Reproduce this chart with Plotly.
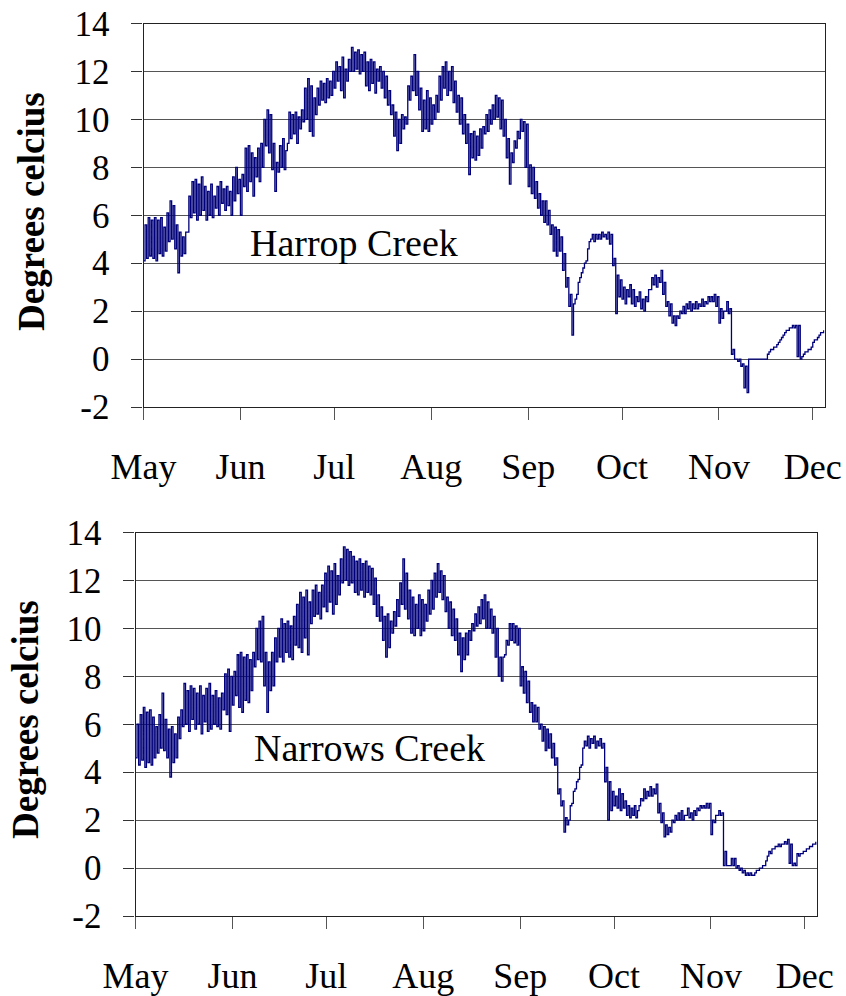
import pandas as pd
import plotly.graph_objects as go

# Season start; each list entry is one day from May 1 onward
START = pd.Timestamp("2003-05-01")

MONTHS = ["May", "Jun", "Jul", "Aug", "Sep", "Oct", "Nov", "Dec"]
MONTH_STARTS = ["2003-05-01", "2003-06-01", "2003-07-01", "2003-08-01",
                "2003-09-01", "2003-10-01", "2003-11-01", "2003-12-01"]
Y_TICKS = [-2, 0, 2, 4, 6, 8, 10, 12, 14]
Y_LABELS = ["-2", "0", "2", "4", "6", "8", "10", "12", "14"]

# Daily maximum / minimum water temperature, Harrop Creek (deg C)
harrop_high = [
    5.6, 5.9, 5.8, 5.9, 5.8, 5.9, 5.5, 6.1, 6.6, 6.4,
    5.6, 5.3, 5.1, 5.3, 6.8, 7.4, 7.5, 7.3, 7.6, 7.2,
    7.0, 7.3, 6.8, 7.2, 7.4, 7.1, 7.2, 7.0, 7.6, 8.0,
    7.5, 7.7, 8.8, 8.9, 8.6, 8.4, 8.8, 9.0, 10.0, 10.4,
    10.2, 9.0, 8.2, 8.9, 9.2, 8.7, 10.3, 10.2, 10.3, 10.1,
    10.4, 11.3, 11.7, 11.4, 10.9, 11.3, 11.6, 11.5, 11.7, 11.6,
    12.0, 12.4, 12.2, 12.6, 12.1, 12.5, 13.0, 12.8, 12.9, 12.7,
    12.8, 12.4, 12.5, 12.4, 12.1, 12.2, 12.0, 11.8, 11.2, 10.6,
    10.3, 10.0, 10.2, 10.1, 11.4, 11.8, 12.7, 12.0, 11.3, 10.8,
    11.2, 10.9, 10.6, 11.0, 11.8, 12.2, 12.4, 12.0, 12.2, 11.6,
    11.0, 10.9, 10.2, 9.8, 9.4, 9.5, 9.3, 9.6, 9.7, 10.2,
    10.4, 10.6, 11.0, 10.9, 10.8, 10.0, 9.2, 8.6, 9.1, 9.5,
    10.0, 9.9, 9.8, 8.1, 8.0, 7.4, 6.9, 6.6, 6.6, 6.2,
    5.6, 5.5, 5.4, 5.1, 4.4, 3.4, 2.7, 2.3, 2.7, 3.4,
    3.8, 4.1, 4.9, 5.2, 5.2, 5.2, 5.3, 5.2, 5.3, 5.2,
    4.2, 3.5, 3.3, 3.0, 2.9, 3.1, 2.9, 2.6, 2.8, 2.5,
    2.6, 2.9, 3.4, 3.5, 3.4, 3.7, 3.2, 2.4, 2.3, 1.8,
    1.8, 2.0, 2.2, 2.3, 2.4, 2.3, 2.4, 2.3, 2.5, 2.4,
    2.6, 2.6, 2.7, 2.6, 2.1, 2.0, 2.4, 2.1, 0.4, 0.0,
    0.0, -0.2, -0.3, 0.0, 0.0, 0.0, 0.0, 0.0, 0.0, 0.2,
    0.4, 0.5, 0.6, 0.8, 1.0, 1.2, 1.3, 1.4, 1.4, 1.4,
    0.1, 0.3, 0.4, 0.5, 0.8, 0.9, 1.1, 1.2,
]
harrop_low = [
    4.1, 4.2, 4.3, 4.2, 4.1, 4.4, 4.3, 4.5, 4.9, 5.0,
    4.6, 3.6, 4.3, 4.4, 5.3, 5.9, 6.1, 5.8, 6.0, 6.2,
    5.8, 6.0, 5.9, 6.3, 6.0, 6.5, 6.2, 6.4, 6.0, 6.6,
    6.9, 6.0, 7.2, 7.0, 7.4, 6.8, 7.6, 7.4, 8.0, 8.9,
    8.6, 7.9, 7.0, 7.8, 8.0, 7.9, 9.0, 9.2, 9.4, 9.0,
    9.6, 9.9, 10.0, 9.5, 9.3, 10.2, 10.6, 10.8, 10.7, 10.9,
    11.0, 11.3, 11.6, 11.2, 10.9, 11.6, 12.0, 12.0, 12.1, 11.9,
    12.0, 11.4, 11.2, 11.5, 11.1, 11.6, 11.3, 10.9, 10.6, 10.2,
    9.3, 8.7, 9.0, 9.6, 9.8, 10.8, 11.2, 11.0, 10.4, 9.5,
    9.6, 9.5, 9.8, 10.0, 10.3, 10.8, 11.3, 11.0, 11.2, 10.7,
    10.3, 9.8, 9.4, 9.0, 7.7, 8.4, 8.3, 8.5, 8.8, 9.4,
    9.5, 9.8, 10.0, 10.1, 9.6, 9.3, 8.4, 7.3, 8.2, 8.8,
    9.2, 9.5, 8.0, 7.2, 6.9, 6.7, 6.3, 6.0, 5.7, 5.6,
    5.2, 4.5, 4.3, 4.5, 3.7, 3.0, 2.2, 1.0, 2.5, 3.2,
    3.6, 4.0, 4.6, 5.0, 4.9, 5.0, 5.0, 5.1, 5.0, 4.8,
    3.9, 1.9, 2.6, 2.5, 2.3, 2.6, 2.3, 2.2, 2.4, 2.1,
    2.0, 2.4, 2.9, 3.1, 3.0, 3.2, 2.7, 2.2, 1.8, 1.5,
    1.4, 1.7, 1.9, 1.9, 2.1, 2.0, 2.1, 2.1, 2.2, 2.2,
    2.3, 2.4, 2.4, 2.2, 1.5, 1.7, 2.0, 1.9, 0.2, 0.0,
    -0.1, -0.3, -1.2, -1.4, 0.0, 0.0, 0.0, 0.0, 0.0, 0.0,
    0.3, 0.4, 0.5, 0.7, 0.9, 1.1, 1.2, 1.3, 1.3, 0.1,
    0.0, 0.2, 0.3, 0.4, 0.7, 0.8, 1.0, 1.1,
]

# Daily maximum / minimum water temperature, Narrows Creek (deg C)
narrows_high = [
    6.0, 6.4, 6.7, 6.5, 6.6, 6.3, 5.9, 6.4, 7.3, 6.2,
    5.8, 5.9, 5.6, 6.3, 6.6, 7.7, 7.4, 7.6, 7.5, 7.3,
    7.6, 7.2, 7.5, 7.7, 7.2, 7.4, 7.1, 7.3, 8.1, 8.3,
    8.0, 8.2, 8.9, 9.0, 8.8, 8.9, 8.7, 9.0, 10.0, 10.3,
    10.5, 9.0, 8.6, 9.0, 9.6, 10.0, 10.4, 10.2, 10.3, 10.1,
    10.5, 11.0, 11.5, 11.3, 11.6, 11.1, 11.6, 11.8, 11.5, 11.8,
    12.3, 12.6, 12.4, 12.7, 12.2, 12.9, 13.4, 13.3, 13.2, 13.0,
    12.8, 12.9, 12.7, 12.8, 12.6, 12.5, 12.1, 11.4, 10.9, 10.5,
    10.6, 10.3, 10.7, 11.2, 11.9, 12.9, 12.3, 11.6, 11.3, 11.0,
    11.4, 11.2, 11.0, 11.6, 12.0, 12.3, 12.7, 12.4, 12.2, 11.3,
    11.1, 10.8, 10.4, 9.8, 9.6, 9.8, 9.9, 10.2, 10.6, 10.9,
    11.2, 11.4, 11.1, 10.8, 10.5, 10.0, 8.8, 8.8, 9.5, 10.2,
    10.2, 10.1, 10.0, 8.4, 8.2, 7.8, 6.9, 6.8, 6.7, 6.0,
    5.9, 5.8, 5.6, 5.2, 4.6, 3.3, 2.8, 2.1, 2.0, 2.7,
    3.3, 3.7, 4.3, 5.3, 5.5, 5.4, 5.5, 5.3, 5.4, 5.2,
    4.2, 3.6, 3.2, 3.0, 3.3, 3.1, 2.8, 2.6, 2.5, 2.6,
    2.4, 2.9, 3.3, 3.2, 3.4, 3.3, 3.5, 2.7, 2.3, 1.8,
    1.7, 2.0, 2.2, 2.3, 2.4, 2.2, 2.5, 2.3, 2.4, 2.5,
    2.6, 2.6, 2.7, 2.7, 2.0, 2.2, 2.4, 2.3, 0.7, 0.1,
    0.4, 0.4, 0.1, 0.0, -0.1, -0.2, -0.2, -0.3, -0.1, 0.0,
    0.1, 0.3, 0.7, 0.8, 0.9, 1.0, 1.0, 1.1, 1.2, 1.0,
    0.2, 0.6, 0.6, 0.7, 0.8, 0.9, 1.0, 1.1,
]
narrows_low = [
    4.6, 4.3, 4.5, 4.2, 4.4, 4.3, 4.6, 4.8, 5.0, 4.9,
    4.6, 3.8, 4.4, 4.6, 5.4, 5.9, 6.0, 5.7, 6.2, 5.8,
    6.0, 5.6, 6.1, 5.7, 5.8, 6.0, 5.9, 5.8, 6.6, 6.4,
    5.7, 6.8, 7.2, 6.7, 6.5, 7.0, 6.9, 7.4, 8.4, 8.7,
    8.6, 7.6, 6.5, 7.4, 7.6, 8.6, 8.8, 8.6, 9.0, 8.8,
    8.7, 9.3, 9.2, 9.0, 9.6, 8.9, 10.2, 10.5, 10.6, 10.4,
    10.9, 10.7, 11.1, 10.6, 11.0, 11.4, 11.9, 12.0, 11.8, 11.9,
    11.5, 11.4, 11.6, 11.3, 11.5, 11.4, 11.0, 10.5, 10.3, 9.5,
    8.8, 9.2, 9.8, 10.1, 10.5, 11.0, 10.8, 10.4, 9.8, 9.7,
    10.0, 9.7, 9.9, 10.3, 10.6, 10.8, 11.3, 11.5, 11.2, 10.7,
    10.0, 9.7, 9.5, 8.9, 8.2, 8.7, 8.9, 9.5, 9.9, 10.1,
    10.2, 10.4, 10.0, 10.0, 9.8, 8.8, 8.0, 7.8, 8.9, 9.3,
    9.5, 9.4, 9.3, 7.6, 7.3, 6.9, 6.5, 6.1, 6.1, 5.8,
    5.3, 4.9, 5.0, 4.6, 4.3, 3.1, 2.6, 1.5, 1.8, 2.6,
    3.2, 3.6, 4.2, 5.0, 5.1, 5.0, 5.2, 5.0, 5.1, 5.0,
    3.6, 2.0, 2.4, 2.6, 2.5, 2.4, 2.5, 2.2, 2.1, 2.2,
    2.1, 2.6, 2.8, 2.9, 3.0, 3.0, 3.1, 2.3, 1.9, 1.3,
    1.4, 1.5, 1.9, 2.0, 2.0, 2.0, 2.2, 2.1, 2.0, 2.2,
    2.4, 2.5, 2.5, 2.5, 1.4, 1.9, 2.2, 2.2, 0.1, 0.1,
    0.1, 0.1, 0.0, -0.1, -0.2, -0.3, -0.3, -0.3, -0.2, -0.1,
    0.0, 0.1, 0.5, 0.6, 0.8, 0.9, 0.9, 1.0, 1.0, 0.2,
    0.1, 0.1, 0.5, 0.6, 0.7, 0.8, 0.9, 1.0,
]

LINE_COLOR = "#00007a"
SERIF = "Liberation Serif, Times New Roman, serif"
W, H = 846, 996


def daily_steps(high, low):
    """Expand daily min/max into a stepped trace: night low, then afternoon high."""
    xs, ys = [], []
    for d, (hi, lo) in enumerate(zip(high, low)):
        xs.append(START + pd.Timedelta(days=d))
        ys.append(lo)
        xs.append(START + pd.Timedelta(days=d + 0.5))
        ys.append(hi)
    return xs, ys


hx, hy = daily_steps(harrop_high, harrop_low)
nx, ny = daily_steps(narrows_high, narrows_low)

fig = go.Figure()
fig.add_trace(go.Scatter(x=hx, y=hy, mode="lines", line_shape="hv",
                         line=dict(color=LINE_COLOR, width=1.3),
                         xaxis="x", yaxis="y", showlegend=False))
fig.add_trace(go.Scatter(x=nx, y=ny, mode="lines", line_shape="hv",
                         line=dict(color=LINE_COLOR, width=1.3),
                         xaxis="x2", yaxis="y2", showlegend=False))


def px_x(p):
    return p / W


def px_y(p):
    return 1 - p / H


xaxis_common = dict(
    type="date",
    automargin=False,
    tickmode="array",
    tickvals=MONTH_STARTS,
    ticktext=MONTHS,
    ticks="outside",
    ticklen=12,
    tickwidth=1,
    tickcolor="#555555",
    showgrid=False,
    zeroline=False,
    showline=True,
    linecolor="#222222",
    linewidth=1.2,
    mirror=True,
    tickfont=dict(family=SERIF, size=36, color="black"),
    ticklabelstandoff=16,
)
yaxis_common = dict(
    range=[-2, 14],
    automargin=False,
    tickmode="array",
    tickvals=Y_TICKS,
    ticktext=Y_LABELS,
    ticks="outside",
    ticklen=11,
    tickwidth=1,
    tickcolor="#333333",
    showgrid=True,
    gridcolor="#555555",
    gridwidth=1,
    zeroline=False,
    showline=True,
    linecolor="#222222",
    linewidth=1.2,
    mirror=True,
    tickfont=dict(family=SERIF, size=35, color="black"),
    ticklabelstandoff=15,
)

top_end = START + pd.Timedelta(days=217.75)
bot_end = START + pd.Timedelta(days=217.9)

title_font = dict(family=SERIF, size=37, color="black", weight="bold")

fig.update_layout(
    width=W,
    height=H,
    margin=dict(l=0, r=0, t=0, b=0, autoexpand=False),
    paper_bgcolor="white",
    plot_bgcolor="white",
    xaxis=dict(xaxis_common, domain=[px_x(143.5), px_x(824.5)],
               range=[START, top_end], anchor="y"),
    yaxis=dict(yaxis_common, domain=[px_y(407), px_y(23.5)], anchor="x"),
    xaxis2=dict(xaxis_common, domain=[px_x(135.5), px_x(817)],
                range=[START, bot_end], anchor="y2"),
    yaxis2=dict(yaxis_common, domain=[px_y(916), px_y(532.5)], anchor="x2"),
    annotations=[
        dict(text="Harrop Creek", x=px_x(353.5), y=px_y(243), xref="paper",
             yref="paper", showarrow=False, xanchor="center", yanchor="middle",
             font=dict(family=SERIF, size=38, color="black")),
        dict(text="Narrows Creek", x=px_x(369), y=px_y(748), xref="paper",
             yref="paper", showarrow=False, xanchor="center", yanchor="middle",
             font=dict(family=SERIF, size=38, color="black")),
        dict(text="Degrees celcius", x=px_x(32), y=px_y(212),
             xref="paper", yref="paper", showarrow=False, textangle=-90,
             xanchor="center", yanchor="middle", font=title_font),
        dict(text="Degrees celcius", x=px_x(25), y=px_y(720),
             xref="paper", yref="paper", showarrow=False, textangle=-90,
             xanchor="center", yanchor="middle", font=title_font),
    ],
)

fig.write_html("out.html")
